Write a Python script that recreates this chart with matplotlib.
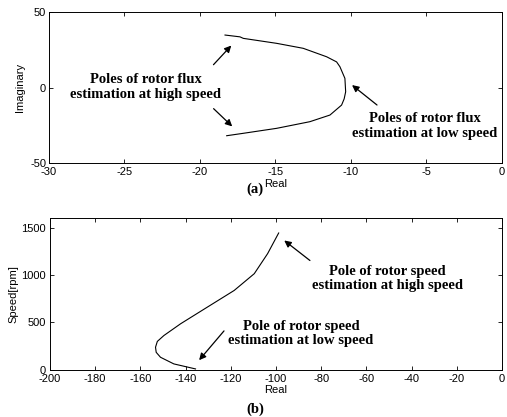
import numpy as np
import matplotlib.pyplot as plt

plt.rcParams['axes.unicode_minus'] = False

# pole locus data
flux_real = [-18.34, -17.35, -17.13, -14.92, -13.16, -11.61, -10.95, -10.73, -10.40,
             -10.35, -10.45, -10.62, -11.39, -12.72, -14.92, -17.13, -18.23]
flux_imag = [34.8, 33.6, 32.6, 29.3, 26.0, 20.4, 17.0, 13.8, 6.1,
             -2.8, -7.5, -11.6, -18.2, -22.6, -27.0, -30.3, -31.9]

speed_real = [-135.6, -145.2, -151.1, -153.0, -153.3, -152.5, -149.6, -142.2,
              -130.4, -118.5, -109.6, -103.7, -98.8]
speed_rpm = [10, 63, 133, 185, 239, 300, 362, 486, 661, 837, 1014, 1225, 1443]

tick_font = {'family': 'Liberation Sans', 'size': 8}
note_font = dict(family='Liberation Serif', weight='bold', size=10.5)
arrow = dict(arrowstyle='-|>', color='black', lw=0.9, mutation_scale=10)

fig = plt.figure(figsize=(5.07, 4.17), dpi=100)
ax1 = fig.add_axes([0.0966, 0.609, 0.8934, 0.362])
ax2 = fig.add_axes([0.0986, 0.113, 0.8914, 0.364])

for ax in (ax1, ax2):
    ax.tick_params(direction='in', top=True, right=True, length=3, width=0.6,
                   labelsize=8, pad=2)
    ax.tick_params(axis='x', pad=3)
    for s in ax.spines.values():
        s.set_linewidth(0.7)
ax2.tick_params(axis='y', pad=3)

# (a) rotor flux poles
ax1.plot(flux_real, flux_imag, color='black', lw=0.8)
ax1.set_xlim(-30, 0)
ax1.set_ylim(-50, 50)
ax1.set_xticks([-30, -25, -20, -15, -10, -5, 0])
ax1.set_yticks([-50, 0, 50])
ax1.set_xlabel('Real', fontdict=tick_font, labelpad=1)
ax1.set_ylabel('Imaginary', fontdict=tick_font, labelpad=4)
for lab in ax1.get_xticklabels() + ax1.get_yticklabels():
    lab.set_family('Liberation Sans')

ax1.text(-23.6, 0.3, 'Poles of rotor flux\nestimation at high speed',
         ha='center', va='center', linespacing=1.15, **note_font)
ax1.annotate('', xy=(-17.8, 29.2), xytext=(-19.23, 13.8), arrowprops=arrow)
ax1.annotate('', xy=(-17.73, -27.0), xytext=(-19.23, -12.7), arrowprops=arrow)
ax1.text(-5.1, -25.3, 'Poles of rotor flux\nestimation at low speed',
         ha='center', va='center', linespacing=1.15, **note_font)
ax1.annotate('', xy=(-10.07, 2.8), xytext=(-8.13, -12.7), arrowprops=arrow)

# (b) rotor speed pole
ax2.plot(speed_real, speed_rpm, color='black', lw=0.8)
ax2.set_xlim(-200, 0)
ax2.set_ylim(0, 1600)
ax2.set_xticks(np.arange(-200, 1, 20))
ax2.set_yticks([0, 500, 1000, 1500])
ax2.set_xlabel('Real', fontdict=tick_font, labelpad=1)
ax2.set_ylabel('Speed[rpm]', fontdict=tick_font, labelpad=2)
for lab in ax2.get_xticklabels() + ax2.get_yticklabels():
    lab.set_family('Liberation Sans')

ax2.text(-50.8, 964, 'Pole of rotor speed\nestimation at high speed',
         ha='center', va='center', linespacing=1.15, **note_font)
ax2.annotate('', xy=(-97.3, 1382), xytext=(-84, 1135), arrowprops=arrow)
ax2.text(-88.9, 383, 'Pole of rotor speed\nestimation at low speed',
         ha='center', va='center', linespacing=1.15, **note_font)
ax2.annotate('', xy=(-134.8, 80), xytext=(-122.2, 433), arrowprops=arrow)

fig.text(0.503, 0.545, '(a)', ha='center', va='center', **note_font)
fig.text(0.503, 0.018, '(b)', ha='center', va='center', **note_font)

fig.savefig('out.png', dpi=100)
